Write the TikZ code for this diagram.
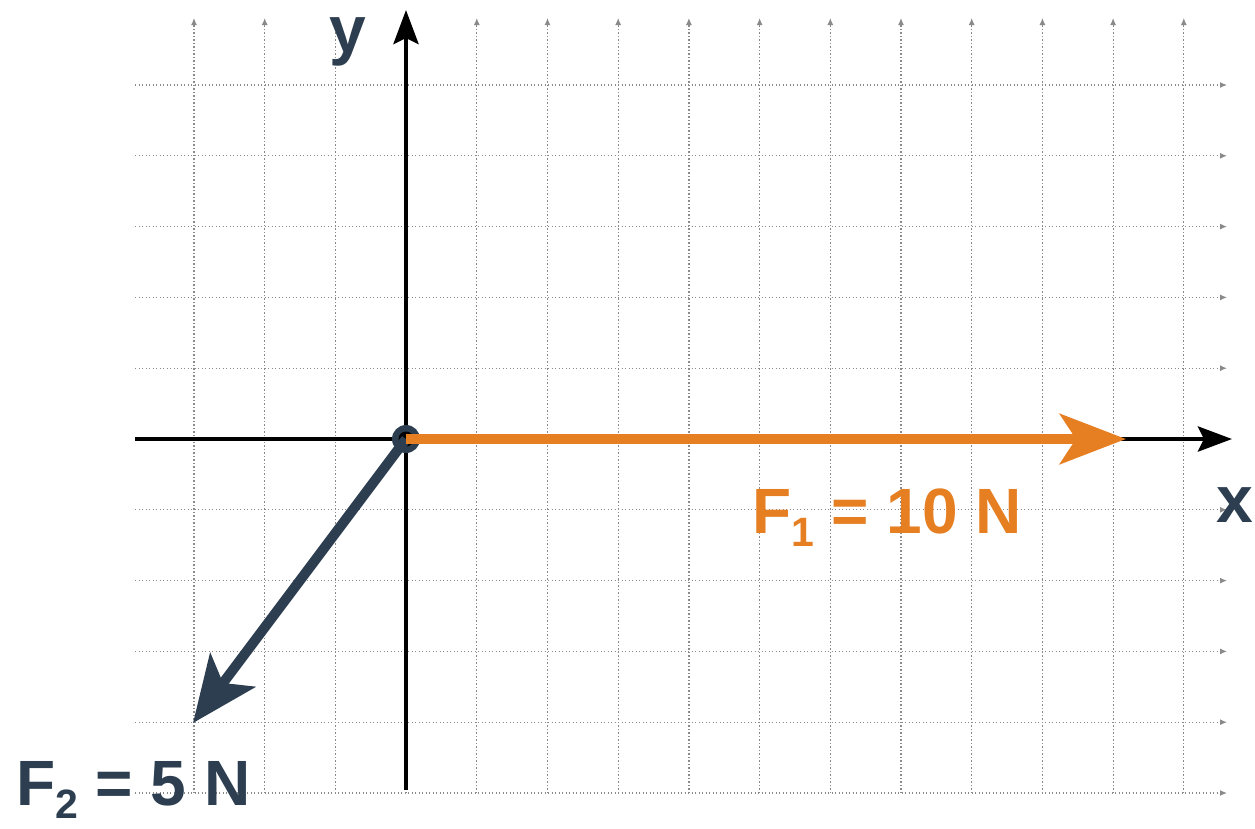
\documentclass[tikz,border=0pt]{standalone}
\usepackage{fontspec}
\setmainfont{Liberation Sans}
\usetikzlibrary{arrows.meta}
\definecolor{navy}{HTML}{2C3E50}
\definecolor{forange}{HTML}{E67E22}
\definecolor{gridgray}{HTML}{8A8A8A}
\tikzset{
  gridline/.style={gridgray, line width=1.2pt, dash pattern=on 1.2pt off 2.3pt, -{Latex[length=7pt,width=6pt]}},
  axisline/.style={black, line width=4.5pt, -{Stealth[length=34pt,width=25pt,inset=6pt]}},
  forcelbl/.style={font=\bfseries\fontsize{64}{64}\selectfont, inner sep=0pt, anchor=base west},
  axislbl/.style={font=\bfseries\fontsize{66}{66}\selectfont, inner sep=0pt, anchor=base west, text=navy},
}
\newcommand{\subidx}[1]{\raisebox{-13pt}{\fontsize{41}{41}\selectfont #1}}
\begin{document}
\begin{tikzpicture}[x=1pt,y=-1pt]
\useasboundingbox (0,0) rectangle (1255,828);
% grid
\foreach \k in {0,...,14} {
  \draw[gridline] ({194+70.7*\k},793) -- ({194+70.7*\k},18);
}
\foreach \k in {0,...,10} {
  \draw[gridline] (135,{85+70.8*\k}) -- (1227,{85+70.8*\k});
}
% coordinates
\coordinate (O) at (406,439);
\coordinate (xstart) at (135,439);
\coordinate (xend) at (1232,439);
\coordinate (ystart) at (406,790);
\coordinate (yend) at (406,10);
\coordinate (F1end) at (1126,439);
\coordinate (F2end) at (193,723);
% axes
\draw[axisline] (xstart) -- (xend);
\draw[axisline] (ystart) -- (yend);
% origin marker
\node[circle, fill=navy, minimum size=28pt, inner sep=0pt] (origin) at (O) {};
\node[circle, fill=black, minimum size=15pt, inner sep=0pt] (origindot) at (O) {};
% forces
\draw[navy, line width=10pt, -{Stealth[length=66pt,width=56pt,inset=16pt]}] (O) -- (F2end);
\draw[forange, line width=10pt, -{Stealth[length=66pt,width=50pt,inset=16pt]}] (O) -- (F1end);
% labels
\node[axislbl] (ylbl) at (329,52) {y};
\node[axislbl] (xlbl) at (1216,522) {x};
\node[forcelbl, text=forange] (F1lbl) at (752,533) {F\subidx{1} = 10 N};
\node[forcelbl, text=navy] (F2lbl) at (16,805) {F\subidx{2} = 5 N};
\end{tikzpicture}
\end{document}
